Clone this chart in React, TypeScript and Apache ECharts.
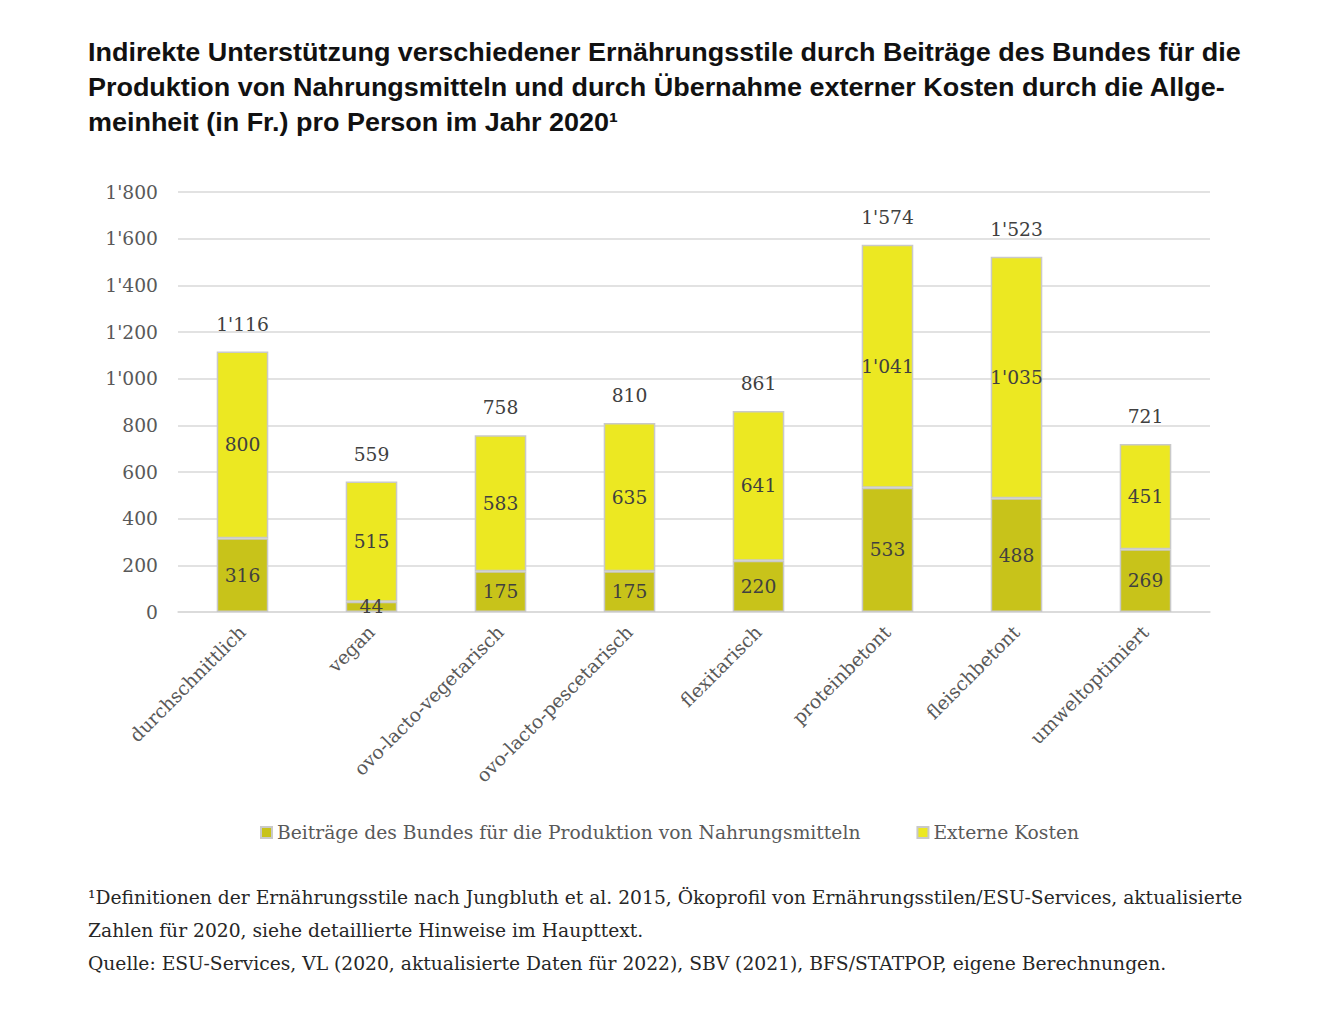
import React, { useEffect, useRef } from "react";
import * as echarts from "echarts";

const categories = [
  "durchschnittlich",
  "vegan",
  "ovo-lacto-vegetarisch",
  "ovo-lacto-pescetarisch",
  "flexitarisch",
  "proteinbetont",
  "fleischbetont",
  "umweltoptimiert",
];
const beitraege = [316, 44, 175, 175, 220, 533, 488, 269];
const externeKosten = [800, 515, 583, 635, 641, 1041, 1035, 451];
const totals = [1116, 559, 758, 810, 861, 1574, 1523, 721];
const yTicks = { min: 0, max: 1800, interval: 200 };

const seriesNames = [
  "Beiträge des Bundes für die Produktion von Nahrungsmitteln",
  "Externe Kosten",
];

const titleLines = [
  "Indirekte Unterstützung verschiedener Ernährungsstile durch Beiträge des Bundes für die",
  "Produktion von Nahrungsmitteln und durch Übernahme externer Kosten durch die Allge-",
  "meinheit (in Fr.) pro Person im Jahr 2020¹",
];
const footLines = [
  "¹Definitionen der Ernährungsstile nach Jungbluth et al. 2015, Ökoprofil von Ernährungsstilen/ESU-Services, aktualisierte",
  "Zahlen für 2020, siehe detaillierte Hinweise im Haupttext.",
  "Quelle: ESU-Services, VL (2020, aktualisierte Daten für 2022), SBV (2021), BFS/STATPOP, eigene Berechnungen.",
];

const SERIF = "'DejaVu Serif', 'Liberation Serif', serif";
const FS = 18.7;
const fmt = (v: number) => {
  const s = String(Math.round(v));
  return s.replace(/\B(?=(\d{3})+(?!\d))/g, "'");
};

export default function App() {
  const ref = useRef<HTMLDivElement>(null);
  useEffect(() => {
    if (!ref.current) return;
    const chart = echarts.init(ref.current, null, { renderer: "svg" });
    const border = { borderColor: "#c9c9c9", borderWidth: 1.5 };
    const titleEls = titleLines.map((t, i) => ({
      type: "text",
      x: 88,
      y: 52 + i * 35,
      scaleX: 1.078,
      style: {
        text: t,
        fontFamily: "'Liberation Sans', Arial, sans-serif",
        fontWeight: "bold",
        fontSize: 25,
        fill: "#111111",
        verticalAlign: "middle",
        align: "left",
      },
    }));
    const footEls = footLines.map((t, i) => ({
      type: "text",
      x: 88,
      y: 897 + i * 33,
      style: {
        text: t,
        fontFamily: SERIF,
        fontSize: FS,
        fill: "#262626",
        verticalAlign: "middle",
        align: "left",
      },
    }));
    chart.setOption({
      animation: false,
      backgroundColor: "#ffffff",
      legend: {
        data: seriesNames,
        left: 255,
        top: 818,
        itemWidth: 11,
        itemHeight: 11,
        itemGap: 56,
        icon: "rect",
        textStyle: { fontFamily: SERIF, fontSize: FS, color: "#595959" },
      },
      grid: { left: 178, right: 110, top: 192, height: 420 },
      xAxis: {
        type: "category",
        data: categories,
        axisLine: { lineStyle: { color: "#d9d9d9", width: 1.5 } },
        axisTick: { show: false },
        axisLabel: {
          rotate: 45,
          margin: 17,
          interval: 0,
          fontFamily: SERIF,
          fontSize: FS,
          color: "#595959",
        },
      },
      yAxis: {
        type: "value",
        min: yTicks.min,
        max: yTicks.max,
        interval: yTicks.interval,
        axisLine: { show: false },
        axisTick: { show: false },
        splitLine: { lineStyle: { color: "#d9d9d9", width: 1.5 } },
        axisLabel: {
          margin: 20,
          fontFamily: SERIF,
          fontSize: FS,
          color: "#595959",
          formatter: (v: number) => fmt(v),
        },
      },
      series: [
        {
          name: seriesNames[0],
          type: "bar",
          stack: "total",
          barWidth: "40%",
          data: beitraege,
          itemStyle: { color: "#c8c31a", ...border },
          label: {
            show: true,
            position: "inside",
            fontFamily: SERIF,
            fontSize: FS,
            color: "#404040",
            formatter: (p: any) => fmt(p.value),
          },
        },
        {
          name: seriesNames[1],
          type: "bar",
          stack: "total",
          barWidth: "40%",
          data: externeKosten,
          itemStyle: { color: "#ece822", ...border },
          label: {
            show: true,
            position: "inside",
            fontFamily: SERIF,
            fontSize: FS,
            color: "#404040",
            formatter: (p: any) => fmt(p.value),
          },
        },
        {
          name: "Total",
          type: "bar",
          barWidth: "40%",
          barGap: "-100%",
          data: totals,
          silent: true,
          itemStyle: { color: "rgba(0,0,0,0)" },
          label: {
            show: true,
            position: "top",
            distance: 18,
            fontFamily: SERIF,
            fontSize: FS,
            color: "#404040",
            formatter: (p: any) => fmt(p.value),
          },
          z: 1,
        },
      ],
      graphic: [...titleEls, ...footEls],
    });
    return () => chart.dispose();
  }, []);
  return (
    <div
      ref={ref}
      style={{ position: "absolute", left: 0, top: 0, width: 1320, height: 1021 }}
    />
  );
}
